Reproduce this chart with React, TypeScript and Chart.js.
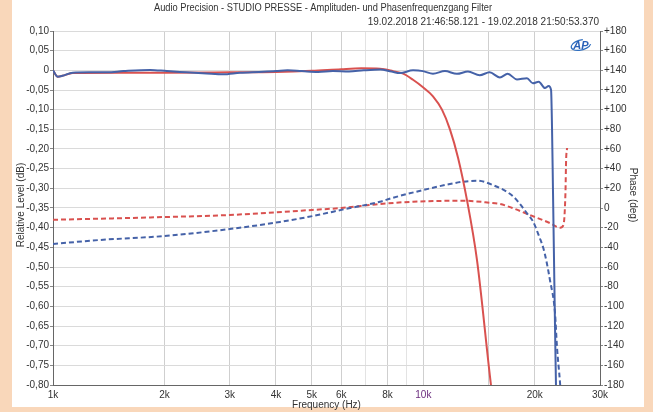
import React, { useEffect, useRef } from "react";
import { Chart, registerables } from "chart.js";

Chart.register(...registerables);

// ---- Texts ----
const chartTitle = "Audio Precision - STUDIO PRESSE - Amplituden- und Phasenfrequenzgang Filter";
const chartSubtitle = "19.02.2018 21:46:58.121 - 19.02.2018 21:50:53.370";
const xAxisTitle = "Frequency (Hz)";
const yAxisTitle = "Relative Level (dB)";
const y1AxisTitle = "Phase (deg)";

// ---- Tick labels (frequencies that get a text label) ----
const xLabeledTicks = [1000, 2000, 3000, 4000, 5000, 6000, 8000, 10000, 20000, 30000];

// ---- Blue solid: level (dB) ----
const blueLevelFreq = [
  1000, 1030, 1060, 1130, 1250, 1400, 1550, 1830, 2030, 2200, 2600, 2880, 3200, 3600, 4000, 4300,
  4700, 5200, 5700, 6300, 6900, 7640, 8200, 8650, 9380, 9980, 10620, 11440, 12320, 13200, 14200,
  15100, 16100, 16900, 17900, 19050, 19770, 20500, 21300, 21800, 22130, 22260, 22400, 22540, 22680,
  22820, 23000,
];
const blueLevelDb = [
  0, -0.016, -0.014, -0.006, -0.005, -0.005, -0.002, 0.001, -0.002, -0.004, -0.008, -0.01, -0.006,
  -0.004, -0.002, 0.0, -0.002, -0.004, -0.002, -0.003, 0.0, 0.002, -0.003, -0.007, 0.0, -0.002,
  -0.0085, -0.002, -0.009, -0.003, -0.0125, -0.005, -0.018, -0.009, -0.023, -0.02, -0.033, -0.029,
  -0.045, -0.04, -0.05, -0.144, -0.312, -0.482, -0.652, -0.805, -1.0,
];

// ---- Red solid: level (dB) ----
const redLevelFreq = [
  1000, 1030, 1060, 1130, 1500, 2000, 3000, 4000, 5000, 6000, 6800, 7640, 8280, 8820, 9380, 9980,
  10620, 11230, 11800, 12410, 13120, 13960, 15230, 16000,
];
const redLevelDb = [
  0, -0.016, -0.014, -0.007, -0.006, -0.006, -0.005, -0.004, -0.001, 0.003, 0.005, 0.004, -0.002,
  -0.0085, -0.024, -0.043, -0.066, -0.1, -0.15, -0.222, -0.33, -0.482, -0.8, -0.95,
];

// ---- Blue dashed: phase (deg) ----
const bluePhaseFreq = [
  1000, 1340, 2000, 3000, 4100, 5040, 6160, 7640, 8240, 10000, 11800, 12800, 13960, 15400, 17400,
  18200, 19050, 19770, 20600, 21100, 21500, 21970, 22680, 22960, 23400, 23600,
];
const bluePhaseDeg = [
  -36.6, -32.5, -28.5, -21.4, -14.2, -8.1, -1.0, 6.4, 10.2, 18.3, 24.4, 26.7, 27.8, 23.4, 12.5, 4.5,
  -5.4, -13.5, -30, -41, -54, -73, -106.8, -141.4, -178, -200,
];

// ---- Red dashed: phase (deg) ----
const redPhaseFreq = [
  1000, 2000, 3000, 5000, 6000, 7640, 9380, 12800, 15100, 16100, 17400, 19400, 21970, 23400, 23900,
  24200, 24300, 24450,
];
const redPhaseDeg = [
  -12, -9.2, -7.1, -2.0, 0, 4.1, 6.4, 7.4, 5.4, 4.1, 0, -7.1, -15.3, -20, -17.3, 15.3, 48.8, 61,
];

const BLUE = "#4562a8";
const RED = "#d9514f";
const PEACH = "#f9d7ba";
const FONT = '"Liberation Sans", Arial, sans-serif';

const toXY = (xs: number[], ys: number[]) => xs.map((x, i) => ({ x, y: ys[i] }));

const fmtK = (v: number) => `${Math.round(v / 1000)}k`;

const decorPlugin = {
  id: "decor",
  beforeDraw(chart: any) {
    const ctx = chart.ctx as CanvasRenderingContext2D;
    ctx.save();
    ctx.fillStyle = PEACH;
    ctx.fillRect(0, 0, chart.width, chart.height);
    ctx.fillStyle = "#ffffff";
    ctx.fillRect(12, 0, 632, 407);
    ctx.restore();
  },
  afterDraw(chart: any) {
    const ctx = chart.ctx as CanvasRenderingContext2D;
    const ca = chart.chartArea;
    ctx.save();
    ctx.fillStyle = "#333333";
    ctx.font = `10px ${FONT}`;
    ctx.textBaseline = "middle";

    // main title, slightly condensed
    ctx.save();
    ctx.translate(323, 8);
    const w = ctx.measureText(chartTitle).width;
    const sx = Math.min(1, 338 / w);
    ctx.scale(sx, 1);
    ctx.textAlign = "center";
    ctx.fillText(chartTitle, 0, 0);
    ctx.restore();

    ctx.textAlign = "right";
    ctx.fillText(chartSubtitle, ca.right - 1, 22);
    ctx.textAlign = "center";
    ctx.fillText(xAxisTitle, (ca.left + ca.right) / 2, 405);

    ctx.save();
    ctx.translate(21, 205);
    ctx.rotate(-Math.PI / 2);
    ctx.fillText(yAxisTitle, 0, 0);
    ctx.restore();

    ctx.save();
    ctx.translate(633, 195);
    ctx.rotate(Math.PI / 2);
    ctx.fillText(y1AxisTitle, 0, 0);
    ctx.restore();

    // AP logo
    ctx.save();
    ctx.translate(581, 45);
    ctx.strokeStyle = "#2f6fc0";
    ctx.lineWidth = 1.2;
    ctx.beginPath();
    ctx.ellipse(0, 0, 10, 5, -0.25, 0.3, Math.PI * 1.6);
    ctx.stroke();
    ctx.fillStyle = "#2a62b8";
    ctx.font = `italic bold 11px ${FONT}`;
    ctx.textAlign = "center";
    ctx.fillText("AP", 0, 0.5);
    ctx.restore();

    ctx.restore();
  },
};

export default function App() {
  const ref = useRef<HTMLCanvasElement | null>(null);

  useEffect(() => {
    document.body.style.margin = "0";
    const canvas = ref.current;
    if (!canvas) return;
    const chart = new Chart(canvas, {
      type: "line",
      data: {
        datasets: [
          {
            label: "Level Ch1",
            data: toXY(blueLevelFreq, blueLevelDb),
            borderColor: BLUE,
            borderWidth: 2,
            pointRadius: 0,
            cubicInterpolationMode: "monotone",
            yAxisID: "y",
          },
          {
            label: "Level Ch2",
            data: toXY(redLevelFreq, redLevelDb),
            borderColor: RED,
            borderWidth: 2,
            pointRadius: 0,
            cubicInterpolationMode: "monotone",
            yAxisID: "y",
          },
          {
            label: "Phase Ch1",
            data: toXY(bluePhaseFreq, bluePhaseDeg),
            borderColor: BLUE,
            borderWidth: 2,
            borderDash: [5, 3],
            pointRadius: 0,
            cubicInterpolationMode: "monotone",
            yAxisID: "y1",
          },
          {
            label: "Phase Ch2",
            data: toXY(redPhaseFreq, redPhaseDeg),
            borderColor: RED,
            borderWidth: 2,
            borderDash: [5, 3],
            pointRadius: 0,
            cubicInterpolationMode: "monotone",
            yAxisID: "y1",
          },
        ],
      },
      options: {
        responsive: false,
        animation: false,
        layout: { padding: { left: 12, right: 9, top: 31, bottom: 5 } },
        plugins: {
          legend: { display: false },
          title: { display: false },
          tooltip: { enabled: false },
        },
        scales: {
          x: {
            type: "logarithmic",
            min: 1000,
            max: 30000,
            afterFit: (s: any) => {
              s.height = 22;
            },
            grid: {
              color: (c: any) => {
                const v = c.tick ? c.tick.value : 0;
                return v === 7000 || v === 9000 ? "#e3e3e3" : "#cfcfcf";
              },
              drawTicks: false,
            },
            border: { display: true, color: "#666666" },
            ticks: {
              autoSkip: false,
              maxRotation: 0,
              minRotation: 0,
              padding: 4,
              font: { family: FONT, size: 10 },
              color: (c: any) => (c.tick && c.tick.value === 10000 ? "#6b2d7e" : "#333333"),
              callback: (v: any) => (xLabeledTicks.includes(Number(v)) ? fmtK(Number(v)) : ""),
            },
          },
          y: {
            type: "linear",
            position: "left",
            min: -0.8,
            max: 0.1,
            afterFit: (s: any) => {
              s.width = 41;
            },
            grid: { color: "#dadada", tickColor: "#888888", tickLength: 3 },
            border: { display: true, color: "#666666" },
            ticks: {
              stepSize: 0.05,
              padding: 1,
              font: { family: FONT, size: 10 },
              color: "#333333",
              callback: (v: any) => {
                const n = Number(v);
                if (Math.abs(n) < 1e-9) return "0";
                return n.toFixed(2).replace(".", ",");
              },
            },
          },
          y1: {
            type: "linear",
            position: "right",
            min: -180,
            max: 180,
            afterFit: (s: any) => {
              s.width = 44;
            },
            grid: { drawOnChartArea: false, tickColor: "#888888", tickLength: 3 },
            border: { display: true, color: "#666666" },
            ticks: {
              stepSize: 20,
              padding: 1,
              font: { family: FONT, size: 10 },
              color: "#333333",
              callback: (v: any) => {
                const n = Math.round(Number(v));
                return n > 0 ? `+${n}` : `${n}`;
              },
            },
          },
        },
      },
      plugins: [decorPlugin],
    });
    return () => chart.destroy();
  }, []);

  return (
    <div style={{ position: "absolute", left: 0, top: 0, width: 653, height: 412 }}>
      <canvas ref={ref} width={653} height={412} style={{ display: "block" }} />
    </div>
  );
}
